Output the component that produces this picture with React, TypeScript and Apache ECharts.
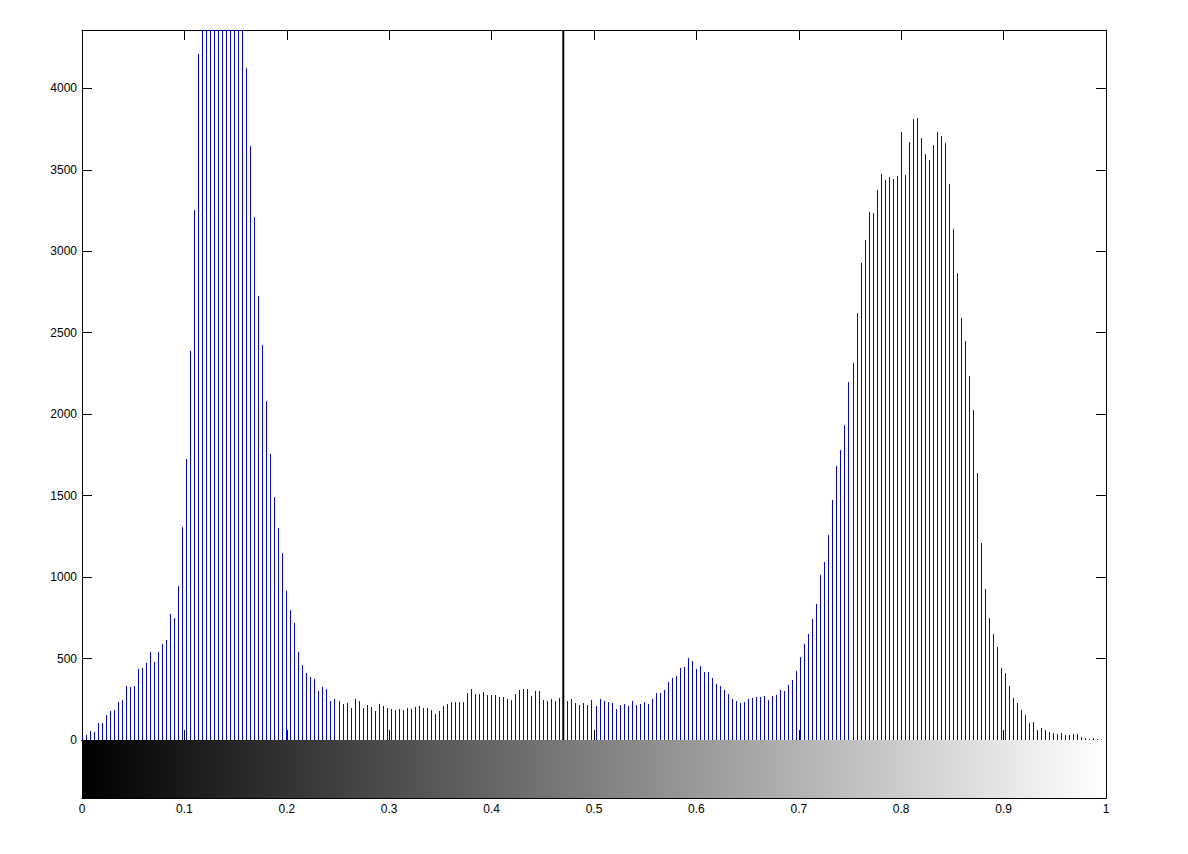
import React, { useEffect, useRef } from "react";
import * as echarts from "echarts";

// Histogram counts for 256 gray-level bins (bin i centred on i/255)
const COUNTS: number[] = [
  20, 31, 55, 49, 104, 104, 153, 178, 184, 233, 245, 331, 325, 331, 436, 442,
  473, 540, 479, 540, 589, 614, 773, 749, 945, 1307, 1725, 2388, 3253, 4211, 4700, 5300,
  5900, 6400, 6700, 6800, 6600, 6200, 5700, 5100, 4600, 4123, 3646, 3210, 2725, 2424, 2081, 1755,
  1491, 1301, 1148, 915, 798, 718, 540, 460, 411, 387, 374, 301, 325, 313, 239, 252,
  239, 221, 227, 196, 252, 239, 196, 215, 203, 178, 221, 209, 196, 190, 184, 190,
  184, 196, 190, 203, 209, 196, 196, 184, 160, 178, 209, 221, 233, 233, 233, 233,
  288, 313, 282, 282, 294, 276, 276, 276, 264, 264, 252, 245, 282, 307, 313, 313,
  270, 301, 301, 245, 239, 252, 239, 258, 250, 239, 252, 227, 215, 227, 215, 245,
  209, 252, 239, 233, 227, 190, 215, 221, 209, 239, 215, 221, 233, 221, 252, 288,
  288, 307, 356, 381, 393, 442, 448, 503, 485, 436, 454, 417, 417, 381, 344, 331,
  307, 282, 252, 239, 227, 233, 252, 258, 264, 264, 270, 245, 270, 276, 307, 301,
  338, 368, 423, 509, 589, 651, 743, 835, 1013, 1093, 1258, 1473, 1682, 1780, 1933, 2197,
  2314, 2621, 2928, 3069, 3241, 3235, 3376, 3474, 3437, 3455, 3443, 3462, 3732, 3468, 3670, 3812,
  3818, 3695, 3597, 3560, 3652, 3732, 3707, 3664, 3412, 3136, 2866, 2590, 2449, 2234, 2025, 1639,
  1209, 927, 749, 651, 571, 442, 411, 331, 258, 227, 184, 153, 104, 110, 61, 74,
  61, 49, 43, 37, 43, 31, 31, 37, 37, 18, 12, 6, 12, 6, 3, 0,
];
const BIN_COUNT = 256;
const BIN_CENTERS: number[] = COUNTS.map((_, i) => i / (BIN_COUNT - 1));
const Y_MAX = 4358;
const Y_TICK_STEP = 500;
const X_TICK_STEP = 0.1;
const THRESHOLD = 0.47;

const FONT = "'Liberation Sans', Arial, Helvetica, sans-serif";

export default function App() {
  const ref = useRef<HTMLDivElement>(null);

  useEffect(() => {
    if (!ref.current) return;
    const chart = echarts.init(ref.current, undefined, { renderer: "svg" });

    const axisLine = { show: true, onZero: false, lineStyle: { color: "#000", width: 1 } };
    const tickIn = { show: true, inside: true, length: 10, lineStyle: { color: "#000", width: 1 } };
    const label = { color: "#000", fontSize: 12, fontFamily: FONT };

    const xBase = {
      type: "value" as const,
      min: 0,
      max: 1,
      interval: X_TICK_STEP,
      axisLine,
      axisTick: tickIn,
      splitLine: { show: false },
    };

    const option: any = {
      animation: false,
      backgroundColor: "#fff",
      grid: [
        { left: 82, top: 30, width: 1024, height: 710 },
        { left: 82, top: 740, width: 1024, height: 58 },
      ],
      xAxis: [
        { ...xBase, gridIndex: 0, position: "bottom", axisLabel: { show: false } },
        { ...xBase, gridIndex: 0, position: "top", axisLabel: { show: false } },
        {
          ...xBase,
          gridIndex: 1,
          position: "bottom",
          axisLabel: {
            ...label,
            margin: 5,
            formatter: (v: number) => String(Math.round(v * 10) / 10),
          },
        },
        { ...xBase, gridIndex: 1, position: "top", axisLabel: { show: false } },
      ],
      yAxis: [
        {
          type: "value",
          gridIndex: 0,
          position: "left",
          min: 0,
          max: Y_MAX,
          interval: Y_TICK_STEP,
          axisLine,
          axisTick: tickIn,
          splitLine: { show: false },
          axisLabel: {
            ...label,
            margin: 5,
            showMaxLabel: false,
            formatter: (v: number) => (v % Y_TICK_STEP === 0 ? String(v) : ""),
          },
        },
        {
          type: "value",
          gridIndex: 0,
          position: "right",
          min: 0,
          max: Y_MAX,
          interval: Y_TICK_STEP,
          axisLine,
          axisTick: tickIn,
          splitLine: { show: false },
          axisLabel: { show: false },
        },
        {
          type: "value",
          gridIndex: 1,
          position: "left",
          min: 0,
          max: 1,
          interval: 0.5,
          axisLine,
          axisTick: tickIn,
          splitLine: { show: false },
          axisLabel: { show: false },
        },
        {
          type: "value",
          gridIndex: 1,
          position: "right",
          min: 0,
          max: 1,
          interval: 0.5,
          axisLine,
          axisTick: tickIn,
          splitLine: { show: false },
          axisLabel: { show: false },
        },
      ],
      series: [
        {
          type: "custom",
          name: "colorbar",
          xAxisIndex: 2,
          yAxisIndex: 2,
          z: 1,
          data: [[0, 0]],
          renderItem: (_params: any, api: any) => {
            const p0 = api.coord([0, 1]);
            const p1 = api.coord([1, 0]);
            return {
              type: "rect",
              shape: { x: p0[0], y: p0[1], width: p1[0] - p0[0], height: p1[1] - p0[1] },
              style: {
                fill: new echarts.graphic.LinearGradient(0, 0, 1, 0, [
                  { offset: 0, color: "#000000" },
                  { offset: 1, color: "#ffffff" },
                ]),
              },
            };
          },
        },
        {
          type: "custom",
          name: "counts",
          xAxisIndex: 0,
          yAxisIndex: 0,
          z: 2,
          data: BIN_CENTERS.map((x, i) => [x, COUNTS[i]]),
          renderItem: (_params: any, api: any) => {
            const x = api.value(0);
            const v = api.value(1);
            if (!(v > 0)) return null;
            const p0 = api.coord([x, 0]);
            const p1 = api.coord([x, Math.min(v, Y_MAX)]);
            const px = Math.floor(p0[0]) + 0.5;
            return {
              type: "line",
              shape: { x1: px, y1: p0[1], x2: px, y2: p1[1] },
              style: { stroke: "#0000ff", lineWidth: 1 },
            };
          },
        },
        {
          type: "line",
          name: "threshold",
          xAxisIndex: 0,
          yAxisIndex: 0,
          z: 3,
          symbol: "none",
          lineStyle: { color: "#000", width: 2 },
          data: [
            [THRESHOLD, 0],
            [THRESHOLD, Y_MAX],
          ],
        },
      ],
    };

    chart.setOption(option);
    return () => chart.dispose();
  }, []);

  return (
    <div
      ref={ref}
      style={{ position: "absolute", left: 0, top: 0, width: 1188, height: 854, background: "#fff" }}
    />
  );
}
